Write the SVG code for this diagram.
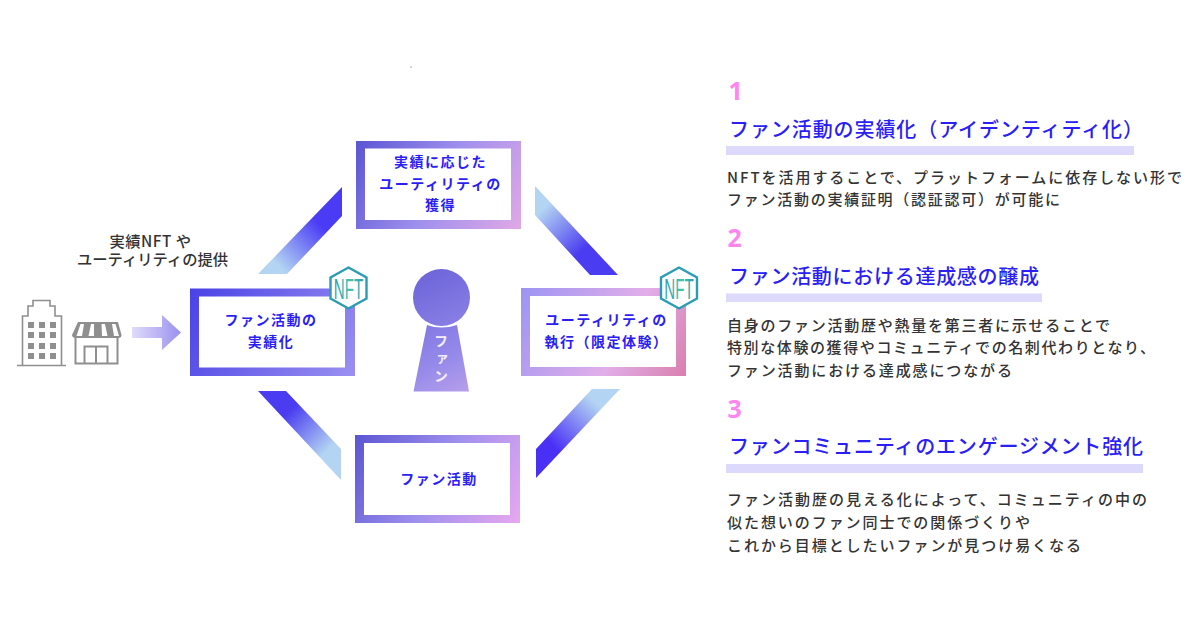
<svg xmlns="http://www.w3.org/2000/svg" width="1200" height="630" viewBox="0 0 1200 630">
<style>
text{font-family:"Noto Sans CJK JP","Noto Sans",sans-serif}
.lbl{font-size:14px;font-weight:700;fill:#2a1ef5;text-anchor:middle;letter-spacing:1.5px}
.note{font-size:15.300px;font-weight:500;fill:#333;text-anchor:middle}
.num{font-size:25px;font-weight:700;fill:#ff85f0;font-family:"Noto Sans","Noto Sans CJK JP",sans-serif}
.h{font-size:20px;font-weight:500;fill:#2a1ef5}
.b{font-size:15px;font-weight:500;fill:#333}
.bar{fill:#dcd9fc}
.hex{fill:#fff;stroke:#2a9db5;stroke-width:2.400}
.nft{font-size:29px;fill:url(#gn);font-family:"Liberation Sans",sans-serif}
.g{fill:#8f8f8f}
.gs{fill:none;stroke:#8f8f8f;stroke-width:1.600}
</style>
<defs>
<linearGradient id="g1" gradientUnits="userSpaceOnUse" x1="190" y1="289" x2="355" y2="376"><stop offset="0" stop-color="#4a42e6"/><stop offset="1" stop-color="#9b90f0"/></linearGradient>
<linearGradient id="g2" gradientUnits="userSpaceOnUse" x1="356" y1="141" x2="521" y2="229"><stop offset="0" stop-color="#5a55d2"/><stop offset=".5" stop-color="#9f90ee"/><stop offset="1" stop-color="#e0a8e6"/></linearGradient>
<linearGradient id="g3" gradientUnits="userSpaceOnUse" x1="521" y1="288" x2="686" y2="376"><stop offset="0" stop-color="#9c94f2"/><stop offset=".6" stop-color="#e2aeea"/><stop offset="1" stop-color="#d97fae"/></linearGradient>
<linearGradient id="g4" gradientUnits="userSpaceOnUse" x1="355" y1="435" x2="520" y2="523"><stop offset="0" stop-color="#5a55d2"/><stop offset=".5" stop-color="#9f90ee"/><stop offset="1" stop-color="#e8a8ee"/></linearGradient>
<linearGradient id="pTL" gradientUnits="userSpaceOnUse" x1="268" y1="268" x2="332" y2="205"><stop offset=".1" stop-color="#b3d4f2"/><stop offset=".75" stop-color="#4a3cf5"/><stop offset="1" stop-color="#4a3cf5"/></linearGradient>
<linearGradient id="pTR" gradientUnits="userSpaceOnUse" x1="545" y1="195" x2="605" y2="260"><stop offset=".1" stop-color="#b3d4f2"/><stop offset=".75" stop-color="#4a3cf0"/></linearGradient>
<linearGradient id="pBL" gradientUnits="userSpaceOnUse" x1="330" y1="460" x2="270" y2="400"><stop offset=".1" stop-color="#b3d4f2"/><stop offset=".75" stop-color="#4a3cf0"/></linearGradient>
<linearGradient id="pBR" gradientUnits="userSpaceOnUse" x1="605" y1="400" x2="545" y2="462"><stop offset=".1" stop-color="#b3d4f2"/><stop offset=".8" stop-color="#4a30f5"/></linearGradient>
<linearGradient id="ga" x1="0" x2="1" y1="0" y2="0"><stop offset="0" stop-color="#dfdcfb"/><stop offset="1" stop-color="#9a90ee"/></linearGradient>
<linearGradient id="gk" gradientUnits="userSpaceOnUse" x1="412" y1="270" x2="472" y2="392"><stop offset="0" stop-color="#6a62d8"/><stop offset=".7" stop-color="#958aea"/><stop offset="1" stop-color="#b9a0ea"/></linearGradient>
<linearGradient id="gn" x1="0" x2="1" y1="0" y2="0"><stop offset="0" stop-color="#2a9db5"/><stop offset=".6" stop-color="#46c4a8"/><stop offset="1" stop-color="#2a9db5"/></linearGradient>
<path id="hexp" d="M0-20.500 18-10.500V10.500L0 20.500-18 10.500V-10.500Z"/>
</defs>
<rect width="1200" height="630" fill="#fff"/>
<g id="connectors">
<polygon points="258,274 287,274 342,216 342,187" fill="url(#pTL)"/>
<polygon points="535,186 535,215 590,275 618,275" fill="url(#pTR)"/>
<polygon points="258,391 286,391 341,449 341,480" fill="url(#pBL)"/>
<polygon points="592,389 620,389 536,478 536,449" fill="url(#pBR)"/>
<polygon points="132,327 162,327 162,315 181,332.500 162,350 162,338 132,338" fill="url(#ga)"/>
</g>
<g id="note"><text class="note"><tspan x="150.500" y="247" letter-spacing=".5">実績NFT や</tspan><tspan x="152.500" y="265">ユーティリティの提供</tspan></text></g>
<g id="issuer">
<path class="gs" d="M22.500 365V316H28V306H33V300.500H50V306H55V316H61.500V365M17 365.500H66"/>
<g class="g"><rect x="28" y="322" width="6" height="6"/><rect x="39" y="322" width="6" height="6"/><rect x="50" y="322" width="6" height="6"/><rect x="28" y="332" width="6" height="6"/><rect x="39" y="332" width="6" height="6"/><rect x="50" y="332" width="6" height="6"/><rect x="28" y="343" width="6" height="6"/><rect x="39" y="343" width="6" height="6"/><rect x="50" y="343" width="6" height="6"/><rect x="28" y="353" width="6" height="6"/><rect x="39" y="353" width="6" height="6"/><rect x="50" y="353" width="6" height="6"/></g>
<path class="gs" style="stroke-width:2" d="M75.500 337V363.500H117.500V337"/>
<path class="gs" style="stroke-width:2" d="M84.500 363V346.500H107.500V363M96 346.500V363"/>
<path class="g" d="M78 322H118L121.500 335Q121.500 338 118 338H76Q72 338 72 335Z"/>
<path fill="#fff" d="M80.500 324H84L82 336H76.500ZM91 324H94L94 336H88.500ZM101.500 324H105L107.500 336H102ZM112 324H115.500L119 336H114Z"/>
</g>
<g id="node-left"><path fill="url(#g1)" fill-rule="evenodd" d="M190 288.500H355V376H190ZM199 296.500V367.500H345V296.500Z"/><text class="lbl" x="271" y="325">ファン活動の</text><text class="lbl" x="271" y="347">実績化</text>
<g transform="translate(348.500,288)"><use href="#hexp" class="hex"/><text class="nft" transform="scale(.52,1)" x="0" y="10.500" text-anchor="middle">NFT</text></g></g>
<g id="node-top"><path fill="url(#g2)" fill-rule="evenodd" d="M356 141H521V229H356ZM365 148.500V220H511V148.500Z"/><text class="lbl" x="440.500" y="167">実績に応じた</text><text class="lbl" x="440.500" y="188.500">ユーティリティの</text><text class="lbl" x="440.500" y="210">獲得</text></g>
<g id="node-right"><path fill="url(#g3)" fill-rule="evenodd" d="M521 288H686V376H521ZM530 296V367H676V296Z"/><text class="lbl" x="606.500" y="325">ユーティリティの</text><text class="lbl" x="606.500" y="347">執行（限定体験）</text>
<g transform="translate(679,288)"><use href="#hexp" class="hex"/><text class="nft" transform="scale(.52,1)" x="0" y="10.500" text-anchor="middle">NFT</text></g></g>
<g id="node-bottom"><path fill="url(#g4)" fill-rule="evenodd" d="M355 435H520V523H355ZM364 443V515H510V443Z"/><text class="lbl" x="439" y="484">ファン活動</text></g>
<g id="node-fan"><circle cx="441.500" cy="297.500" r="28.500" fill="url(#gk)"/><path fill="url(#gk)" d="M427 325Q441 330 457 325L469 391.500H413.500Z"/>
<text x="441" y="334" fill="#f3eefc" font-size="14" font-weight="700" letter-spacing="3.500" text-anchor="start" style="writing-mode:vertical-rl">ファン</text></g>
<rect id="speck" x="410" y="66.500" width="2" height="1" fill="#aab"/>
<g id="point1"><text class="num" x="728.500" y="100">1</text><text class="h" x="729" y="137" textLength="414">ファン活動の実績化（アイデンティティ化）</text><rect class="bar" x="726" y="146" width="408" height="9"/>
<text class="b" x="727" y="183" textLength="455">NFTを活用することで、プラットフォームに依存しない形で</text><text class="b" x="727" y="205" textLength="333">ファン活動の実績証明（認証認可）が可能に</text></g>
<g id="point2"><text class="num" x="727.500" y="247">2</text><text class="h" x="729" y="284" textLength="310">ファン活動における達成感の醸成</text><rect class="bar" x="726" y="293.500" width="316" height="8.500"/>
<text class="b" x="727" y="331" textLength="383">自身のファン活動歴や熱量を第三者に示せることで</text><text class="b" x="727" y="353" textLength="428">特別な体験の獲得やコミュニティでの名刺代わりとなり、</text><text class="b" x="727" y="376" textLength="285">ファン活動における達成感につながる</text></g>
<g id="point3"><text class="num" x="727.500" y="418">3</text><text class="h" x="729" y="454" textLength="414">ファンコミュニティのエンゲージメント強化</text><rect class="bar" x="726" y="464" width="417" height="9"/>
<text class="b" x="727" y="505" textLength="420">ファン活動歴の見える化によって、コミュニティの中の</text><text class="b" x="727" y="528" textLength="303">似た想いのファン同士での関係づくりや</text><text class="b" x="727" y="551" textLength="354">これから目標としたいファンが見つけ易くなる</text></g>
</svg>
